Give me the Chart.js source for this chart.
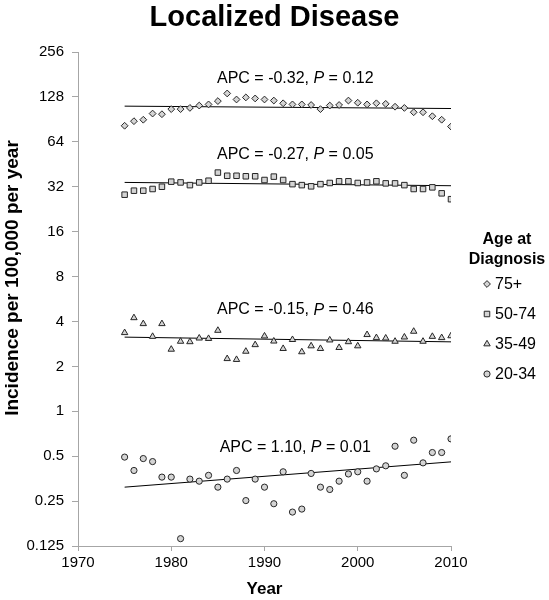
<!DOCTYPE html>
<html>
<head>
<meta charset="utf-8">
<title>Localized Disease</title>
<script src="https://cdn.jsdelivr.net/npm/chart.js@4.4.1/dist/chart.umd.min.js"></script>
<style>
  html, body { margin: 0; padding: 0; background: #fff; }
  #wrap { width: 549px; height: 600px; }
</style>
</head>
<body>
<div id="wrap"><canvas id="chart" width="549" height="600"></canvas></div>
<script>
// Данные
const years = [1975, 1976, 1977, 1978, 1979, 1980, 1981, 1982, 1983, 1984, 1985, 1986,
               1987, 1988, 1989, 1990, 1991, 1992, 1993, 1994, 1995, 1996, 1997, 1998,
               1999, 2000, 2001, 2002, 2003, 2004, 2005, 2006, 2007, 2008, 2009, 2010];

const age75 = [82, 88, 90, 99, 98, 106, 106, 108, 112, 114, 120, 135,
               123, 127, 125, 123, 121, 116, 114, 114, 113, 106, 112, 113,
               121, 117, 114, 116, 115, 110, 108, 101, 101, 95, 90, 81];
const age50 = [28.3, 30.1, 30.1, 30.9, 32, 34.6, 34.2, 32.8, 34.2, 35.1, 39.8, 37.9,
               37.9, 37.6, 37.6, 35.5, 37.4, 35.5, 33.3, 32.8, 32.2, 33.3, 33.9, 34.8,
               34.8, 33.9, 34.2, 34.8, 33.7, 33.7, 32.8, 30.9, 30.9, 31.7, 28.9, 26.4];
const age35 = [3.36, 4.23, 3.86, 3.17, 3.86, 2.6, 2.94, 2.92, 3.09, 3.07, 3.48, 2.25,
               2.22, 2.52, 2.79, 3.19, 2.95, 2.63, 3.02, 2.5, 2.74, 2.63, 3.0, 2.67,
               2.92, 2.74, 3.26, 3.11, 3.09, 2.94, 3.14, 3.43, 2.94, 3.17, 3.11, 3.2];
const age20 = [0.493, 0.401, 0.482, 0.46, 0.362, 0.362, 0.14, 0.351, 0.34, 0.372, 0.31, 0.351,
               0.401, 0.252, 0.351, 0.31, 0.24, 0.393, 0.211, 0.221, 0.383, 0.31, 0.299, 0.34,
               0.38, 0.393, 0.34, 0.411, 0.431, 0.583, 0.372, 0.64, 0.451, 0.529, 0.529, 0.653];

// Линии тренда (начало и конец)
const trendYears = [1975, 2010];
const trend75 = [111, 107];
const trend50 = [34.2, 32.5];
const trend35 = [3.14, 2.92];
const trend20 = [0.31, 0.458];

const seriesNames = ['75+', '50-74', '35-49', '20-34'];
const apcValues = ['-0.32', '-0.27', '-0.15', '1.10'];
const pValues = ['0.12', '0.05', '0.46', '0.01'];
// Куда ставить подписи APC (в координатах данных)
const apcAnchorX = 1993.3;
const apcAnchorY = [171, 52.6, 4.77, 0.571];

const yTicks = [0.125, 0.25, 0.5, 1, 2, 4, 8, 16, 32, 64, 128, 256];
const xTicks = [1970, 1980, 1990, 2000, 2010];

const FONT = "'Liberation Sans', Arial, sans-serif";
const AXIS_GRAY = '#a6a6a6';
const MARK_FILL = '#d4d4d4';
const MARK_EDGE = '#262626';

Chart.defaults.font.family = FONT;
Chart.defaults.color = '#000';

const toPoints = (xs, ys) => xs.map((x, i) => ({ x, y: ys[i] }));

const markerDataset = (label, values, style, radius) => ({
    label,
    data: toPoints(years, values),
    pointStyle: style,
    pointRadius: radius,
    pointHoverRadius: radius,
    pointBackgroundColor: MARK_FILL,
    pointBorderColor: MARK_EDGE,
    pointBorderWidth: 1,
    showLine: false
});

const trendDataset = (values) => ({
    label: 'trend',
    data: toPoints(trendYears, values),
    showLine: true,
    borderColor: '#000',
    borderWidth: 1,
    pointRadius: 0,
    pointHoverRadius: 0
});

// Подписи APC поверх графика
const apcPlugin = {
    id: 'apcLabels',
    afterDatasetsDraw(chart) {
        const { ctx, scales: { x, y } } = chart;
        ctx.save();
        ctx.fillStyle = '#000';
        ctx.textBaseline = 'middle';
        ctx.textAlign = 'left';
        apcValues.forEach((apc, i) => {
            const parts = [
                [`APC = ${apc}, `, `16px ${FONT}`],
                ['P', `italic 16px ${FONT}`],
                [` = ${pValues[i]}`, `16px ${FONT}`]
            ];
            let total = 0;
            parts.forEach(([t, f]) => { ctx.font = f; total += ctx.measureText(t).width; });
            let px = x.getPixelForValue(apcAnchorX) - total / 2;
            const py = y.getPixelForValue(apcAnchorY[i]);
            parts.forEach(([t, f]) => {
                ctx.font = f;
                ctx.fillText(t, px, py);
                px += ctx.measureText(t).width;
            });
        });
        ctx.restore();
    }
};

// Заголовок, подпись оси Y и легенда
const textPlugin = {
    id: 'extraText',
    afterDraw(chart) {
        const ctx = chart.ctx;
        ctx.save();
        ctx.fillStyle = '#000';

        // заголовок по центру холста
        ctx.textAlign = 'center';
        ctx.textBaseline = 'alphabetic';
        ctx.font = `bold 29px ${FONT}`;
        ctx.fillText('Localized Disease', chart.width / 2, 26);

        // подпись оси Y
        ctx.save();
        ctx.translate(13, 278);
        ctx.rotate(-Math.PI / 2);
        ctx.textBaseline = 'middle';
        ctx.font = `bold 19px ${FONT}`;
        ctx.fillText('Incidence per 100,000 per year', 0, 0);
        ctx.restore();

        // легенда
        ctx.textBaseline = 'middle';
        ctx.font = `bold 16px ${FONT}`;
        ctx.fillText('Age at', 507, 240);
        ctx.fillText('Diagnosis', 507, 260);
        ctx.font = `16px ${FONT}`;
        ctx.textAlign = 'left';
        seriesNames.forEach((name, i) => {
            const ds = chart.data.datasets[i];
            const yy = 284 + i * 30;
            ctx.fillStyle = MARK_FILL;
            ctx.strokeStyle = MARK_EDGE;
            ctx.lineWidth = 1;
            Chart.helpers.drawPoint(ctx, {
                pointStyle: ds.pointStyle, radius: ds.pointRadius, borderWidth: 1, rotation: 0
            }, 487, yy);
            ctx.fillStyle = '#000';
            ctx.fillText(name, 495, yy + 1);
        });
        ctx.restore();
    }
};

new Chart(document.getElementById('chart'), {
    type: 'scatter',
    data: {
        datasets: [
            markerDataset(seriesNames[0], age75, 'rectRot', 3.4),
            markerDataset(seriesNames[1], age50, 'rect', 3.9),
            markerDataset(seriesNames[2], age35, 'triangle', 3.7),
            markerDataset(seriesNames[3], age20, 'circle', 3.1),
            trendDataset(trend75),
            trendDataset(trend50),
            trendDataset(trend35),
            trendDataset(trend20)
        ]
    },
    options: {
        responsive: false,
        animation: false,
        layout: { padding: { left: 0, right: 98, top: 52, bottom: 0 } },
        plugins: {
            legend: { display: false },
            tooltip: { enabled: false },
            title: { display: false }
        },
        scales: {
            x: {
                type: 'linear',
                min: 1970,
                max: 2010,
                afterBuildTicks: (s) => { s.ticks = xTicks.map(v => ({ value: v })); },
                afterFit: (s) => { s.height = 54; },
                ticks: {
                    autoSkip: false,
                    maxRotation: 0,
                    padding: 3,
                    color: '#000',
                    font: { size: 15 },
                    callback: (v) => String(v)
                },
                grid: { display: true, drawOnChartArea: false, tickLength: 5, color: AXIS_GRAY },
                border: { color: AXIS_GRAY },
                title: {
                    display: true,
                    text: 'Year',
                    color: '#000',
                    font: { size: 17, weight: 'bold' },
                    padding: { top: 0, bottom: 0 }
                }
            },
            y: {
                type: 'logarithmic',
                min: 0.125,
                max: 256,
                afterBuildTicks: (s) => { s.ticks = yTicks.map(v => ({ value: v })); },
                afterFit: (s) => { s.width = 78; },
                ticks: {
                    autoSkip: false,
                    padding: 8,
                    color: '#000',
                    font: { size: 15 },
                    callback: (v) => String(v)
                },
                grid: { display: true, drawOnChartArea: false, tickLength: 6, color: AXIS_GRAY },
                border: { color: AXIS_GRAY },
                title: { display: false }
            }
        }
    },
    plugins: [apcPlugin, textPlugin]
});
</script>
</body>
</html>
